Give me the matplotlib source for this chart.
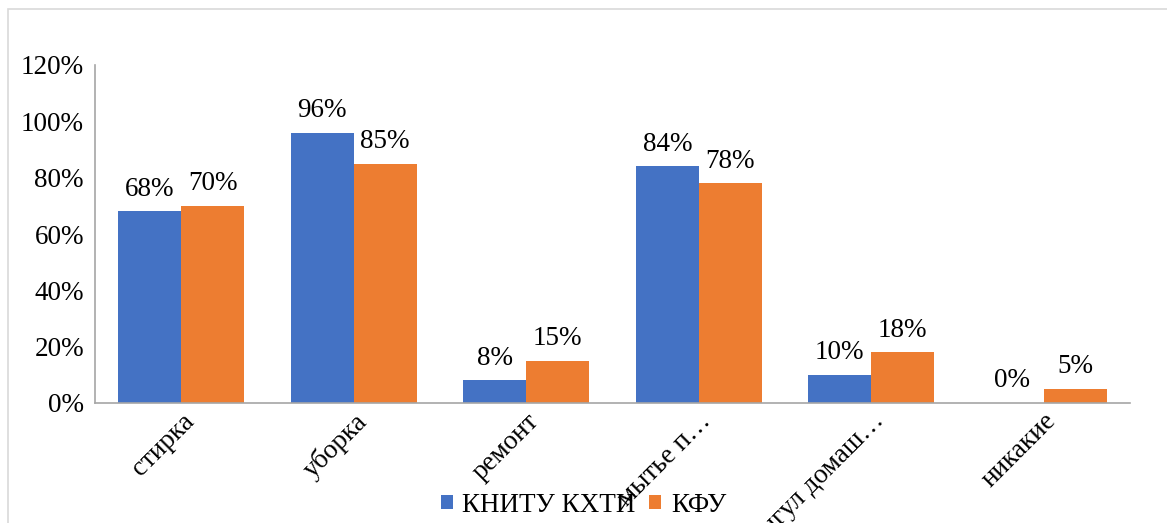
import numpy as np
import matplotlib
matplotlib.use('Agg')
from matplotlib import pyplot as plt
from matplotlib.patches import Rectangle

plt.rcParams['font.family'] = ['Liberation Serif', 'DejaVu Serif']

categories = ['стирка', 'уборка', 'ремонт', 'мытье п…', 'выгул домаш…', 'никакие']
series_names = ['КНИТУ КХТИ', 'КФУ']
kniti = [0.68, 0.96, 0.08, 0.84, 0.10, 0.00]
kfu = [0.70, 0.85, 0.15, 0.78, 0.18, 0.05]
yticks = [0, 0.2, 0.4, 0.6, 0.8, 1.0, 1.2]
colors = ['#4472C4', '#ED7D31']

fig = plt.figure(figsize=(11.67, 5.23), dpi=100)
ax = fig.add_axes([95/1167, 1-403/523, (1130-95)/1167, (403-65)/523])

# outer chart border (partly cut off in the original)
fig.patches.append(Rectangle((8/1167, -0.1), 1.2, (523-9)/523 + 0.1,
                             transform=fig.transFigure, fill=False,
                             edgecolor='#d9d9d9', lw=1.2))

x = np.arange(len(categories))
w = 0.365
fs = 19.5
for i, (vals, name) in enumerate(zip([kniti, kfu], series_names)):
    pos = x + (i - 0.5) * w
    bars = ax.bar(pos, vals, w, color=colors[i], label=name)
    for b, v in zip(bars, vals):
        ax.annotate(f'{int(round(v*100))}%', (b.get_x() + b.get_width()/2, v),
                    xytext=(0, 7), textcoords='offset points',
                    ha='center', va='bottom', fontsize=fs)

ax.set_xlim(-0.5, len(categories) - 0.5)
ax.set_ylim(0, 1.2)
ax.set_yticks(yticks)
ax.set_yticklabels([f'{int(round(t*100))}%' for t in yticks], fontsize=fs)
ax.set_xticks(x)
ax.set_xticklabels(categories, fontsize=fs, rotation=45, ha='right',
                   va='top', rotation_mode='anchor')
ax.tick_params(axis='both', length=0)
ax.tick_params(axis='x', pad=4)
ax.tick_params(axis='y', pad=8)

for s in ['top', 'right']:
    ax.spines[s].set_visible(False)
for s in ['left', 'bottom']:
    ax.spines[s].set_color('#a6a6a6')
    ax.spines[s].set_linewidth(1.2)

fig.legend(loc='center', bbox_to_anchor=(0.5, 1-505/523), ncol=2,
           frameon=False, fontsize=fs, handlelength=0.45, handleheight=0.45,
           handletextpad=0.35, columnspacing=0.5)

fig.savefig('out.png', dpi=100)
